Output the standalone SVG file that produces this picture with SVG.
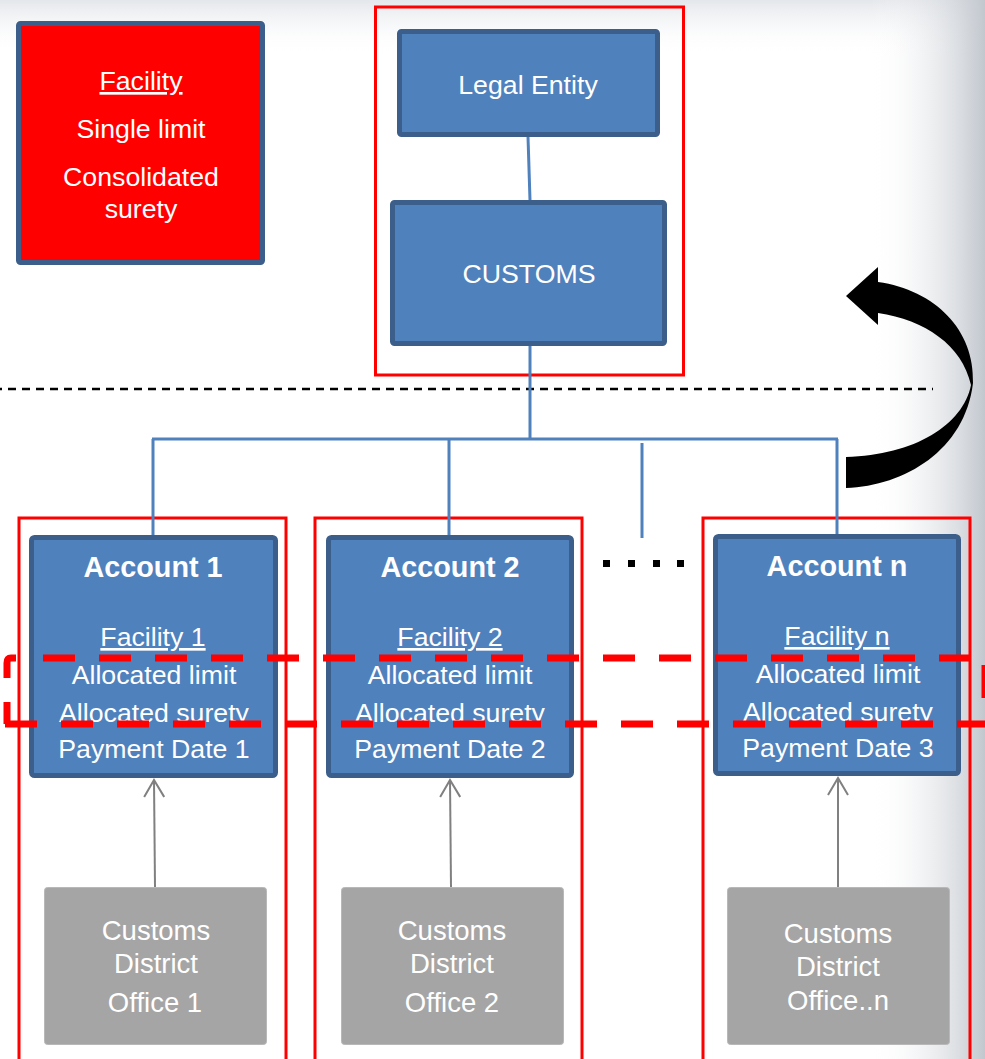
<svg xmlns="http://www.w3.org/2000/svg" width="985" height="1059" viewBox="0 0 985 1059">
  <defs>
    <linearGradient id="bgTop" x1="0" y1="0" x2="0" y2="1">
      <stop offset="0" stop-color="#E4E7EB"/>
      <stop offset="1" stop-color="#FFFFFF" stop-opacity="0"/>
    </linearGradient>
    <linearGradient id="bgRight" x1="0" y1="0" x2="1" y2="0">
      <stop offset="0" stop-color="#FFFFFF" stop-opacity="0"/>
      <stop offset="1" stop-color="#C2C7CE"/>
    </linearGradient>
    <marker id="openHead" viewBox="0 0 20 22" refX="18" refY="11" markerWidth="20" markerHeight="22" markerUnits="userSpaceOnUse" orient="auto">
      <path d="M1 1 L18 11 L1 21" fill="none" stroke="#808080" stroke-width="2"/>
    </marker>
    <style>
      .txt { font-family: "Liberation Sans", Arial, sans-serif; fill: #FFFFFF; text-anchor: middle; font-size: 26.7px; }
      .bold { font-weight: bold; font-size: 28.8px; }
      .ul { text-decoration: underline; }
      .grayTxt { font-size: 27.5px; }
      .blueBox { fill: #4F81BD; stroke: #3C5E8B; stroke-width: 5; }
      .grayBox { fill: #A5A5A5; stroke: #B8B8B8; stroke-width: 1; }
      .frame { fill: none; stroke: #FF0000; stroke-width: 3; }
      .link { fill: none; stroke: #4F81BD; stroke-width: 3; }
      .feed { stroke: #808080; stroke-width: 2; fill: none; }
    </style>
  </defs>

  <!-- backdrop -->
  <rect x="0" y="0" width="985" height="1059" fill="#FFFFFF"/>
  <rect x="0" y="0" width="985" height="55" fill="url(#bgTop)"/>
  <rect x="870" y="0" width="115" height="1059" fill="url(#bgRight)"/>

  <!-- level separator -->
  <line x1="0" y1="389" x2="933" y2="389" stroke="#000000" stroke-width="2.5" stroke-dasharray="8 6" stroke-dashoffset="6"/>

  <!-- red grouping frames -->
  <g id="frames">
    <rect class="frame" x="375.5" y="7" width="308" height="368"/>
    <rect class="frame" x="19" y="518" width="267" height="560"/>
    <rect class="frame" x="315" y="518" width="267" height="560"/>
    <rect class="frame" x="703" y="518" width="267" height="560"/>
  </g>

  <!-- connectors -->
  <g id="connectors">
    <line class="link" x1="528" y1="137" x2="530" y2="200"/>
    <line class="link" x1="530" y1="345" x2="530" y2="439"/>
    <line class="link" x1="152" y1="439" x2="838" y2="439"/>
    <line class="link" x1="153" y1="439" x2="153" y2="536"/>
    <line class="link" x1="449" y1="439" x2="449" y2="536"/>
    <line class="link" x1="642" y1="443" x2="642" y2="538"/>
    <line class="link" x1="837" y1="439" x2="837" y2="535"/>
    <line class="feed" x1="155" y1="887" x2="154" y2="780" marker-end="url(#openHead)"/>
    <line class="feed" x1="451" y1="887" x2="450" y2="780" marker-end="url(#openHead)"/>
    <line class="feed" x1="838" y1="887" x2="838" y2="778" marker-end="url(#openHead)"/>
    <!-- ellipsis between accounts -->
    <g fill="#000000">
      <rect x="603" y="560" width="7" height="7"/>
      <rect x="628" y="560" width="7" height="7"/>
      <rect x="653" y="560" width="7" height="7"/>
      <rect x="677" y="560" width="7" height="7"/>
    </g>
    <!-- curved return arrow -->
    <path d="M846 488 C 905 486 965 450 973 383 C 975 330 935 290 878 282 L 878 267 L 846 296 L 878 325 L 878 313 C 925 320 962 345 971 385 C 963 425 915 455 846 457 Z" fill="#000000"/>
  </g>

  <!-- facility summary -->
  <g id="facility">
    <rect x="18.5" y="23.5" width="244" height="239" rx="2" fill="#FF0000" stroke="#3C5E8B" stroke-width="5"/>
    <text class="txt ul" x="141" y="90">Facility</text>
    <text class="txt" x="141" y="138">Single limit</text>
    <text class="txt" x="141" y="186">Consolidated</text>
    <text class="txt" x="141" y="218">surety</text>
  </g>

  <g id="legal-entity">
    <rect class="blueBox" x="399.5" y="31.5" width="258" height="103" rx="2"/>
    <text class="txt" x="528" y="94">Legal Entity</text>
  </g>

  <g id="customs">
    <rect class="blueBox" x="392.5" y="202.5" width="272" height="141" rx="2"/>
    <text class="txt" x="529" y="283">CUSTOMS</text>
  </g>

  <g id="account-1">
    <rect class="blueBox" x="31.5" y="537.5" width="244" height="238" rx="3"/>
    <text class="txt bold" x="153" y="577">Account 1</text>
    <text class="txt ul" x="153" y="646">Facility 1</text>
    <text class="txt" x="154" y="684">Allocated limit</text>
    <text class="txt" x="154" y="722">Allocated surety</text>
    <text class="txt" x="154" y="758">Payment Date 1</text>
  </g>

  <g id="account-2">
    <rect class="blueBox" x="328.5" y="537.5" width="243" height="238" rx="3"/>
    <text class="txt bold" x="450" y="577">Account 2</text>
    <text class="txt ul" x="450" y="646">Facility 2</text>
    <text class="txt" x="450" y="684">Allocated limit</text>
    <text class="txt" x="450" y="722">Allocated surety</text>
    <text class="txt" x="450" y="758">Payment Date 2</text>
  </g>

  <g id="account-n">
    <rect class="blueBox" x="715.5" y="536.5" width="243" height="237" rx="3"/>
    <text class="txt bold" x="837" y="576">Account n</text>
    <text class="txt ul" x="837" y="645">Facility n</text>
    <text class="txt" x="838" y="683">Allocated limit</text>
    <text class="txt" x="838" y="721">Allocated surety</text>
    <text class="txt" x="838" y="757">Payment Date 3</text>
  </g>

  <g id="office-1">
    <rect class="grayBox" x="44.5" y="887.5" width="222" height="157" rx="3"/>
    <text class="txt grayTxt" x="156" y="940">Customs</text>
    <text class="txt grayTxt" x="156" y="973">District</text>
    <text class="txt grayTxt" x="155" y="1012">Office 1</text>
  </g>

  <g id="office-2">
    <rect class="grayBox" x="341.5" y="887.5" width="222" height="157" rx="3"/>
    <text class="txt grayTxt" x="452" y="940">Customs</text>
    <text class="txt grayTxt" x="452" y="973">District</text>
    <text class="txt grayTxt" x="452" y="1012">Office 2</text>
  </g>

  <g id="office-n">
    <rect class="grayBox" x="727.5" y="887.5" width="222" height="157" rx="3"/>
    <text class="txt grayTxt" x="838" y="943">Customs</text>
    <text class="txt grayTxt" x="838" y="976">District</text>
    <text class="txt grayTxt" x="838" y="1010">Office..n</text>
  </g>

  <!-- dashed band across the allocation rows -->
  <g id="allocation-band" stroke="#FF0000" stroke-width="7" fill="none">
    <line x1="43" y1="658" x2="990" y2="658" stroke-dasharray="32 24"/>
    <line x1="5" y1="724" x2="990" y2="724" stroke-dasharray="32 24"/>
    <path d="M16 658 H11 Q7 658 7 663 V678"/>
    <path d="M7 702 V724"/>
    <line x1="985" y1="665" x2="985" y2="698"/>
  </g>
</svg>
